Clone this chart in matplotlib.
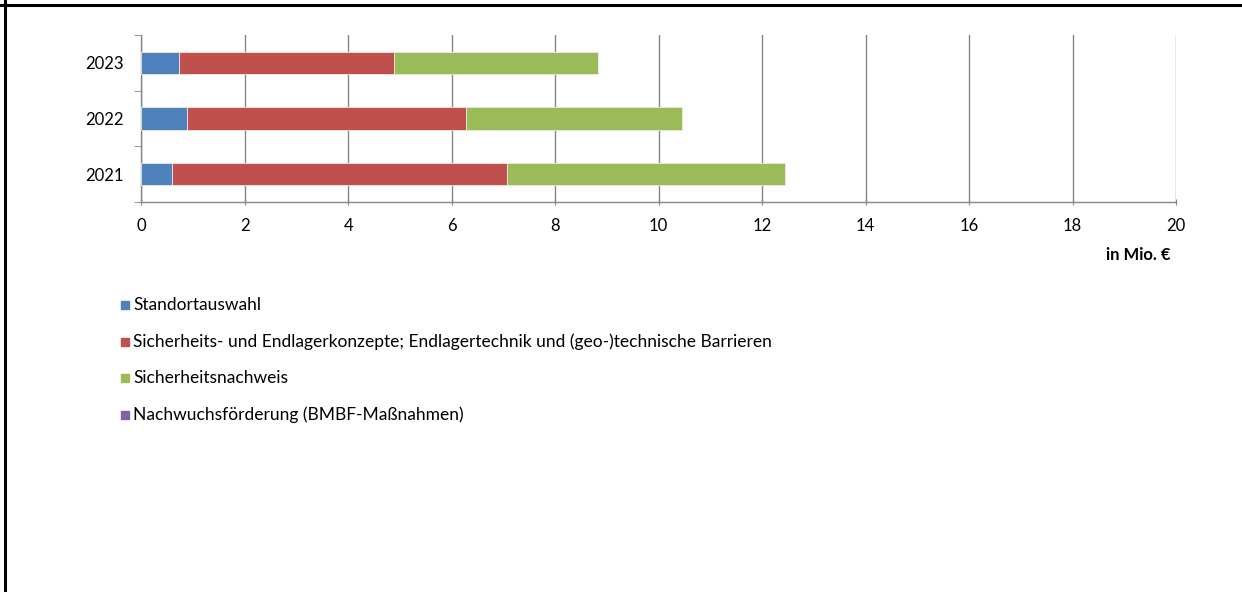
import matplotlib.pyplot as plt
from matplotlib.lines import Line2D
from matplotlib.patches import Rectangle
import numpy as np

plt.rcParams['font.family'] = ['Lato', 'DejaVu Sans']

years = ['2021', '2022', '2023']
standort = [0.59, 0.89, 0.735]
konzepte = [6.48, 5.39, 4.145]
nachweis = [5.37, 4.18, 3.95]
nachwuchs = [0.0, 0.0, 0.0]

labels = ['Standortauswahl',
          'Sicherheits- und Endlagerkonzepte; Endlagertechnik und (geo-)technische Barrieren',
          'Sicherheitsnachweis',
          'Nachwuchsförderung (BMBF-Maßnahmen)']
colors = ['#4F81BD', '#C0504D', '#9BBB59', '#8064A2']
xticks = [0, 2, 4, 6, 8, 10, 12, 14, 16, 18, 20]

fig = plt.figure(figsize=(12.42, 5.92), dpi=100)
ax = fig.add_axes([0.1138, 0.6588, 0.8331, 0.2821])

y = np.arange(len(years))
left = np.zeros(len(years))
for vals, c in zip([standort, konzepte, nachweis, nachwuchs], colors):
    ax.barh(y, vals, left=left, height=0.4, color=c, edgecolor='#E8ECE0', linewidth=0.6, zorder=3)
    left = left + np.array(vals)

ax.set_xlim(0, 20)
ax.set_ylim(-0.5, 2.5)
ax.set_xticks(xticks)
ax.set_xticklabels([str(t) for t in xticks], fontsize=12)
ax.set_yticks(y)
ax.set_yticklabels(years, fontsize=12)
ax.set_yticks([-0.5, 0.5, 1.5, 2.5], minor=True)
ax.tick_params(axis='y', which='major', length=0, pad=13)
ax.tick_params(axis='y', which='minor', length=5, color='#868686')
ax.tick_params(axis='x', length=5, color='#868686', pad=9, direction='inout')
ax.grid(axis='x', color='#868686', linewidth=1, zorder=0)
for s in ['top', 'right']:
    ax.spines[s].set_visible(False)
for s in ['left', 'bottom']:
    ax.spines[s].set_color('#868686')
    ax.spines[s].set_linewidth(1)

fig.text(1170 / 1242, 1 - 255 / 592, 'in Mio. €', fontsize=12, fontweight='bold',
         ha='right', va='center')

# legend drawn manually to match the vertical list
for i, (lab, c) in enumerate(zip(labels, colors)):
    yc = 1 - (305 + i * 36.5) / 592
    fig.add_artist(Rectangle((121 / 1242, yc - 4 / 592), 8 / 1242, 8 / 592,
                             transform=fig.transFigure, color=c))
    fig.text(133 / 1242, yc, lab, fontsize=12.5, ha='left', va='center')

# outer frame
fig.add_artist(Line2D([0, 1], [1 - 5 / 592, 1 - 5 / 592], color='black', linewidth=2.2,
                      transform=fig.transFigure))
fig.add_artist(Line2D([5 / 1242, 5 / 1242], [0, 1], color='black', linewidth=2.2,
                      transform=fig.transFigure))

plt.savefig('out.png', dpi=100)
